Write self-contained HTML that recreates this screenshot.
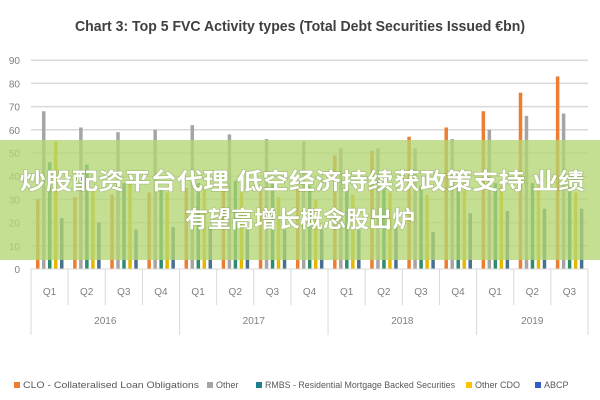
<!DOCTYPE html>
<html><head><meta charset="utf-8"><style>
html,body{margin:0;padding:0;background:#fff;width:600px;height:400px;overflow:hidden}
</style></head><body>
<svg width="600" height="400" xmlns="http://www.w3.org/2000/svg" font-family="Liberation Sans, sans-serif">
<rect width="600" height="400" fill="#fff"/>
<text x="300" y="31" text-anchor="middle" font-size="15" font-weight="bold" fill="#404040" textLength="450" lengthAdjust="spacingAndGlyphs">Chart 3: Top 5 FVC Activity types (Total Debt Securities Issued €bn)</text>
<g id="grid" stroke="#d9d9d9" stroke-width="1.5"></g>
<g id="ylab" font-size="10" fill="#7f7f7f" text-anchor="end"></g>
<g id="bars"></g>
<g id="xax" stroke="#d9d9d9" stroke-width="1"></g>
<g id="xlab" font-size="10" fill="#7f7f7f" text-anchor="middle"></g>
<rect x="0" y="140" width="600" height="120" fill="rgba(180,214,115,0.78)"/>
<g font-family="Liberation Sans, Noto Sans CJK SC, sans-serif" font-size="23" font-weight="bold" fill="#fff" text-anchor="middle" style="paint-order:stroke" stroke="rgba(110,130,70,0.4)" stroke-width="1.2">
<text x="302" y="189" textLength="565" lengthAdjust="spacingAndGlyphs">炒股配资平台代理 低空经济持续获政策支持 业绩</text>
<text x="300" y="227">有望高增长概念股出炉</text>
</g>
<g font-size="9" fill="#595959">
<rect x="14" y="382" width="6" height="6" fill="#ED7D31"/><text x="23" y="388" textLength="176" lengthAdjust="spacingAndGlyphs">CLO - Collateralised Loan Obligations</text>
<rect x="207" y="382" width="6" height="6" fill="#A5A5A5"/><text x="216" y="388">Other</text>
<rect x="256" y="382" width="6" height="6" fill="#1F7F8C"/><text x="265" y="388" textLength="190" lengthAdjust="spacingAndGlyphs">RMBS - Residential Mortgage Backed Securities</text>
<rect x="466" y="382" width="6" height="6" fill="#FFC000"/><text x="475" y="388">Other CDO</text>
<rect x="535" y="382" width="6" height="6" fill="#2F5DC4"/><text x="544" y="388">ABCP</text>
</g>
<script>
var ns="http://www.w3.org/2000/svg";
function el(p,t,a,tx){var e=document.createElementNS(ns,t);for(var k in a)e.setAttribute(k,a[k]);if(tx)e.textContent=tx;document.getElementById(p).appendChild(e);}
var y0=269,s=2.32,L=31,R=588;
for(var v=0;v<=90;v+=10){var y=y0-v*s;if(v>0)el("grid","line",{x1:L,x2:R,y1:y,y2:y});el("ylab","text",{x:20,y:y+4},""+v);}
var d=[[30,68,46,55,22],[31,61,45,34,20],[32,59,37,37,17],[33,60,35,33,18],[35,62,37,35,18],[34,58,38,33,17],[35,56,37,31,17],[36,55,36,30,17],[49,52,36,32,17],[51,52,35,33,18],[57,52,36,32,16],[61,56,36,34,24],[68,60,37,36,25],[76,66,37,36,26],[83,67,36,33,26]];
var c=["#ED7D31","#A5A5A5","#2E8B6E","#E5B800","#4A7090"];
var w=(R-L)/15;
for(var i=0;i<15;i++){var gx=L+i*w;for(var j=0;j<5;j++){var h=d[i][j]*s;el("bars","rect",{x:gx+5+j*6,y:y0-h,width:3.5,height:h,fill:c[j]});}
el("xlab","text",{x:gx+w/2,y:295},"Q"+(i%4+1));
el("xax","line",{x1:gx,x2:gx,y1:y0,y2:(i%4==0?335:305)});}
el("xax","line",{x1:R,x2:R,y1:y0,y2:335});
el("xax","line",{x1:L,x2:R,y1:y0,y2:y0});
var yrs=["2016","2017","2018","2019"];
for(var k=0;k<4;k++){var a=L+k*4*w,b=Math.min(R,a+4*w);el("xlab","text",{x:(a+b)/2,y:324},yrs[k]);}
</script>
</svg>
</body></html>
